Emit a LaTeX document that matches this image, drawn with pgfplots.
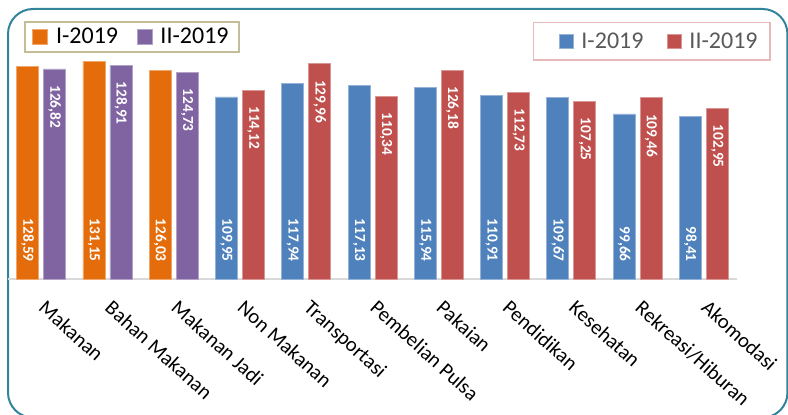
\documentclass[border=0pt]{standalone}
\usepackage{fontspec}
\setmainfont{Carlito}
\usepackage{graphicx}
\usepackage{pgfplots}
\pgfplotsset{compat=1.18}
\usepackage{pgfplotstable}

\definecolor{cOr}{HTML}{E46C0A}
\definecolor{cPu}{HTML}{8064A2}
\definecolor{cBl}{HTML}{4F81BD}
\definecolor{cRd}{HTML}{C0504D}
\definecolor{frameC}{HTML}{31849B}
\definecolor{legL}{HTML}{C4BD97}
\definecolor{legR}{HTML}{E6B9B8}
\definecolor{baseC}{HTML}{D9D9D9}
\definecolor{txtG}{HTML}{595959}

\pgfplotstableread{
x a b
0 128.59 126.82
1 131.15 128.91
2 126.03 124.73
}\food
\pgfplotstableread{
x a b
3 109.95 114.12
4 117.94 129.96
5 117.13 110.34
6 115.94 126.18
7 110.91 112.73
8 109.67 107.25
9 99.66 109.46
10 98.41 102.95
}\nonfood

\pgfplotsset{
  basex/.style={width=546.75pt, height=173.88pt, scale only axis,
    xmin=-0.5, xmax=10.5, ymin=0, ymax=140,
    at={(6pt,101.25pt)}, anchor=south west,
    ybar, bar width=16.5pt, clip=false, ytick=\empty, major tick length=0pt,
    legend columns=2,
  },
  labtop/.style={nodes near coords={\rotatebox{-90}{\pgfmathprintnumber[fixed,fixed zerofill,precision=2,use comma,assume math mode=true]{\pgfplotspointmeta}}},
    nodes near coords align={north},
    every node near coord/.style={anchor=north, xshift=10.125pt, yshift=-12pt, font=\fontsize{11.5}{12}\selectfont\bfseries, text=white, inner sep=0pt}},
  labbot/.style={nodes near coords={\rotatebox{-90}{\pgfmathprintnumber[fixed,fixed zerofill,precision=2,use comma,assume math mode=true]{\pgfplotspointmeta}}},
    nodes near coords align={south},
    every node near coord/.style={anchor=south, xshift=-10.125pt, yshift=12.75pt, font=\fontsize{11.5}{12}\selectfont\bfseries, text=white, inner sep=0pt}},
}

\begin{document}
\begin{tikzpicture}
\draw[frameC, line width=1.5pt, rounded corners=18.75pt] (6pt,303.75pt) rectangle (590.6pt,-2.7pt);

\begin{axis}[basex,
  axis x line*=bottom, axis y line=none,
  x axis line style={draw=baseC, line width=1.5pt, -},
  xtick={0,...,10},
  xticklabels={Makanan, Bahan Makanan, Makanan Jadi, Non Makanan, Transportasi, Pembelian Pulsa, Pakaian, Pendidikan, Kesehatan, Rekreasi/Hiburan, Akomodasi},
  xticklabel shift=13.5pt,
  xticklabel style={xshift=4.5pt, rotate=-42, anchor=north west, font=\fontsize{15.5}{16}\selectfont, inner sep=1pt},
  legend image code/.code={\path[draw=none,fill=none] (0pt,0pt) -- (15.5pt,0pt); \fill[#1] (0pt,-5.6pt) rectangle (11.25pt,5.6pt);},
  legend style={at={(0.0219,1.1127)}, anchor=north west, draw=legL, line width=1.5pt, fill=white,
    font=\fontsize{18}{20}\selectfont, text=black, inner xsep=5.5pt, inner ysep=2.5pt,
    /tikz/every even column/.append style={column sep=12pt}},
]
\addplot[fill=cOr, draw=cOr!60!white, line width=0.6pt, bar shift=-10.125pt] table[x=x,y=a]{\food};
\addlegendentry{I-2019}
\addplot[fill=cPu, draw=cPu!60!white, line width=0.6pt, bar shift=10.125pt, labtop] table[x=x,y=b]{\food};
\addlegendentry{II-2019}
\addplot[draw=none, fill=none, bar shift=-10.125pt, forget plot, labbot, point meta=explicit] table[x=x, y expr=0, meta=a]{\food};
\end{axis}

\begin{axis}[basex, hide axis, xtick=\empty,
  legend image code/.code={\path[draw=none,fill=none] (-12pt,0pt) -- (14.5pt,0pt); \fill[#1] (0pt,-5.25pt) rectangle (10.5pt,5.25pt);},
  legend style={at={(1.0467,1.110)}, anchor=north east, draw=legR, line width=1.2pt, fill=white,
    font=\fontsize{18}{20}\selectfont, text=txtG, inner xsep=7.5pt, inner ysep=5.5pt,
    /tikz/every even column/.append style={column sep=4pt}},
]
\addplot[fill=cBl, draw=cBl!60!white, line width=0.6pt, bar shift=-10.125pt] table[x=x,y=a]{\nonfood};
\addlegendentry{I-2019}
\addplot[fill=cRd, draw=cRd!60!white, line width=0.6pt, bar shift=10.125pt, labtop] table[x=x,y=b]{\nonfood};
\addlegendentry{II-2019}
\addplot[draw=none, fill=none, bar shift=-10.125pt, forget plot, labbot, point meta=explicit] table[x=x, y expr=0, meta=a]{\nonfood};
\end{axis}

\pgfresetboundingbox
\useasboundingbox (0pt,0pt) rectangle (591pt,310.5pt);
\end{tikzpicture}
\end{document}
